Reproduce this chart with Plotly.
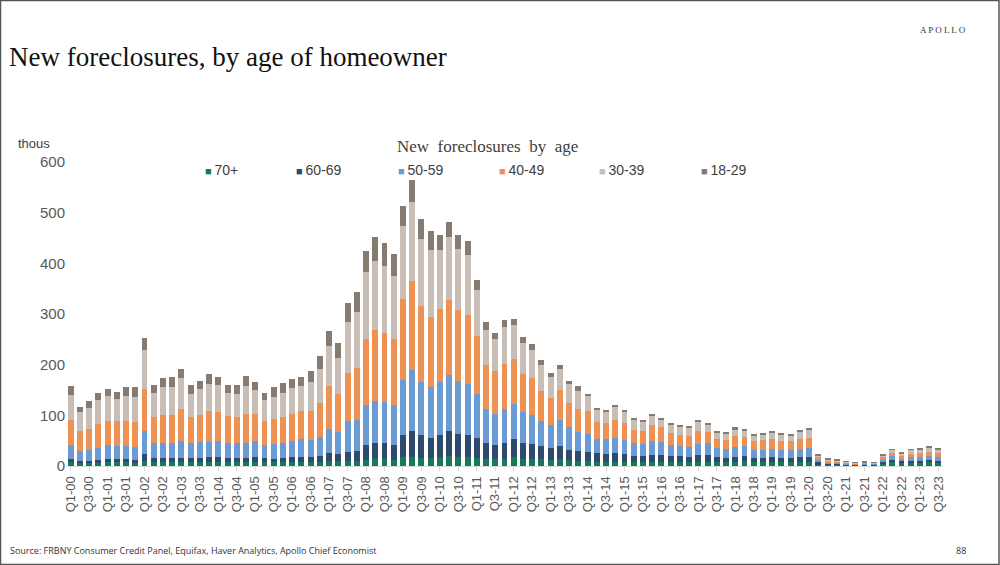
import plotly.graph_objects as go

# Quarters Q1-00 .. Q3-23
quarters = [f"Q{q}-{y:02d}" for y in range(0, 24) for q in range(1, 5)][:95]
tick_labels = quarters[::2]

age_70p = [7,5,5,6,7,7,7,6,10,7,7,7,7,7,7,7,7,7,7,7,7,7,7,7,7,8,8,8,9,9,
           10,10,12,13,13,12,18,18,16,15,17,20,17,17,15,13,13,14,18,14,
           14,13,12,13,11,10,10,8,8,8,8,7,7,7,7,7,7,7,7,8,7,7,8,9,8,8,8,8,8,8,
           8,3.3,2,2,1.3,1,1.3,1.3,5.3,8,6,6.6,7,7,6.6]
age_60_69 = [7,5,5,6,7,7,7,6,14,8,8,8,9,8,8,10,10,8,8,8,10,8,7,9,10,10,10,12,16,14,
             18,20,29,33,32,29,43,51,45,40,45,50,46,45,41,33,28,32,35,32,
             29,26,24,26,21,19,17,17,16,17,15,13,13,15,15,12,12,10,14,14,10,8,10,10,8,7,9,8,8,9,
             10,3.7,2.6,2,1.3,1,1.3,1.3,3.2,4,3,3.9,3.5,4,3.9]
age_50_59 = [27,20,22,24,27,26,26,26,46,30,31,31,34,30,32,31,33,31,31,31,33,27,30,30,33,35,34,38,49,44,
             60,60,80,83,81,80,109,120,104,101,104,110,104,100,86,67,62,67,69,61,
             57,49,44,51,44,38,37,28,29,31,28,25,24,27,26,22,20,21,23,23,19,18,20,20,16,17,16,16,16,17,
             18,5.5,2.4,2,2,1.3,2,1.4,4,7,4.8,6.5,7.3,8,6.5]
age_40_49 = [50,40,41,47,48,48,48,49,82,52,54,55,63,52,54,60,57,53,50,57,53,46,49,50,53,55,57,66,83,76,
             96,103,130,139,136,130,160,176,150,139,143,148,141,137,114,86,84,88,89,75,
             73,60,55,60,48,46,45,34,32,35,34,27,26,31,28,24,22,22,26,22,17,19,21,19,17,19,20,17,17,19,
             20,5.3,3.5,2.5,2,1.3,1.4,1.3,5.3,6.6,6.6,7,7.8,9,8.6]
age_30_39 = [50,36,41,47,49,44,50,49,77,47,56,55,60,46,51,53,52,46,46,54,47,43,44,49,51,50,57,67,79,71,
             100,110,131,137,133,124,144,157,134,132,117,123,120,117,92,70,64,73,68,61,
             56,51,41,42,37,36,29,23,23,25,22,19,18,19,16,16,17,16,17,14,14,13,14,13,12,12,13,13,12,15,
             16,3.9,2.5,2.5,1.9,1.4,1,1.3,3.9,6,4.6,7.6,7.4,8,7.9]
age_18_29 = [17,11,14,14,14,15,18,20,23,15,18,20,18,16,16,20,16,14,17,20,16,14,18,19,17,18,21,27,30,29,
             37,41,42,46,46,43,39,43,38,37,29,31,28,29,19,15,12,15,12,12,
             12,10,7,8,7,8,5,4,3,4,4,3,3,4,3,2,2,3,3,3,2,3,3,3,3,3,3,3,3,3,
             2,2,1.5,1.5,0.5,0.6,1,0.4,2,1.9,2,1.9,2,2,2]

series = [
    ("70+", age_70p, "#167a58"),
    ("60-69", age_60_69, "#2e4a6c"),
    ("50-59", age_50_59, "#6b9bd4"),
    ("40-49", age_40_49, "#ee9152"),
    ("30-39", age_30_39, "#c8beb5"),
    ("18-29", age_18_29, "#857b70"),
]

fig = go.Figure()
for name, vals, col in series:
    fig.add_trace(go.Bar(x=quarters, y=vals, name=name, marker_color=col,
                         marker_line_width=0, showlegend=False))

W, H = 1000, 565
L, R, T, B = 66, 57, 162, 99
pw, ph = W - L - R, H - T - B

def px(x):
    return (x - L) / pw

def py(y):
    return 1 - (y - T) / ph

fig.update_layout(
    width=W, height=H,
    margin=dict(l=L, r=R, t=T, b=B, autoexpand=False),
    barmode="stack", bargap=0.36,
    plot_bgcolor="white", paper_bgcolor="white",
    font=dict(family="Liberation Sans, Arial", color="#595959"),
    xaxis=dict(type="category", tickmode="array", tickvals=tick_labels, ticktext=tick_labels,
               tickangle=-90, tickfont=dict(size=13, color="#595959"),
               showline=True, linecolor="#d9d9d9", linewidth=1,
               ticks="outside", ticklen=4, tickcolor="#d9d9d9",
               showgrid=False, range=[-0.5, 94.5]),
    yaxis=dict(range=[0, 600], dtick=100, showgrid=False, zeroline=False,
               tickfont=dict(size=15, color="#595959"), ticks="", showline=False),
)

ann = []
ann.append(dict(x=px(7), y=py(57), xref="paper", yref="paper", xanchor="left", yanchor="middle",
                text="New foreclosures, by age of homeowner", showarrow=False,
                font=dict(family="Liberation Serif, Times New Roman", size=27, color="#111111")))
ann.append(dict(x=px(968), y=py(30), xref="paper", yref="paper", xanchor="right", yanchor="middle",
                text="A P O L L O", showarrow=False,
                font=dict(family="Liberation Serif", size=9, color="#333333")))
ann.append(dict(x=px(487), y=py(147), xref="paper", yref="paper", xanchor="center", yanchor="middle",
                text="New\u2002foreclosures\u2002by\u2002age", showarrow=False,
                font=dict(family="Liberation Serif", size=17, color="#404040")))
ann.append(dict(x=px(52), y=py(143), xref="paper", yref="paper", xanchor="right", yanchor="middle",
                text="thous", showarrow=False, font=dict(size=13, color="#404040")))
leg_x = [203, 294, 396, 497, 597, 699]
for (name, vals, col), lx in zip(series, leg_x):
    ann.append(dict(x=px(lx), y=py(170), xref="paper", yref="paper", xanchor="left", yanchor="middle",
                    text=f'<span style="color:{col};font-size:11px">■</span>\u2009{name}', showarrow=False,
                    font=dict(size=14, color="#404040")))
ann.append(dict(x=px(8), y=py(550), xref="paper", yref="paper", xanchor="left", yanchor="middle",
                text="Source: FRBNY Consumer Credit Panel, Equifax, Haver Analytics, Apollo Chief Economist",
                showarrow=False, font=dict(family="Open Sans", size=9, color="#333333")))
ann.append(dict(x=px(968), y=py(550), xref="paper", yref="paper", xanchor="right", yanchor="middle",
                text="88", showarrow=False, font=dict(family="Open Sans", size=9, color="#333333")))
fig.update_layout(annotations=ann)

fig.add_shape(type="rect", xref="paper", yref="paper", x0=px(0.5), x1=px(999), y0=py(564.5), y1=py(0.5),
              line=dict(color="#555555", width=1.5), fillcolor="rgba(0,0,0,0)", layer="above")

fig.write_html("out.html", config={"displayModeBar": False},
               post_script="document.body.style.margin='0';document.body.style.overflow='hidden';")
